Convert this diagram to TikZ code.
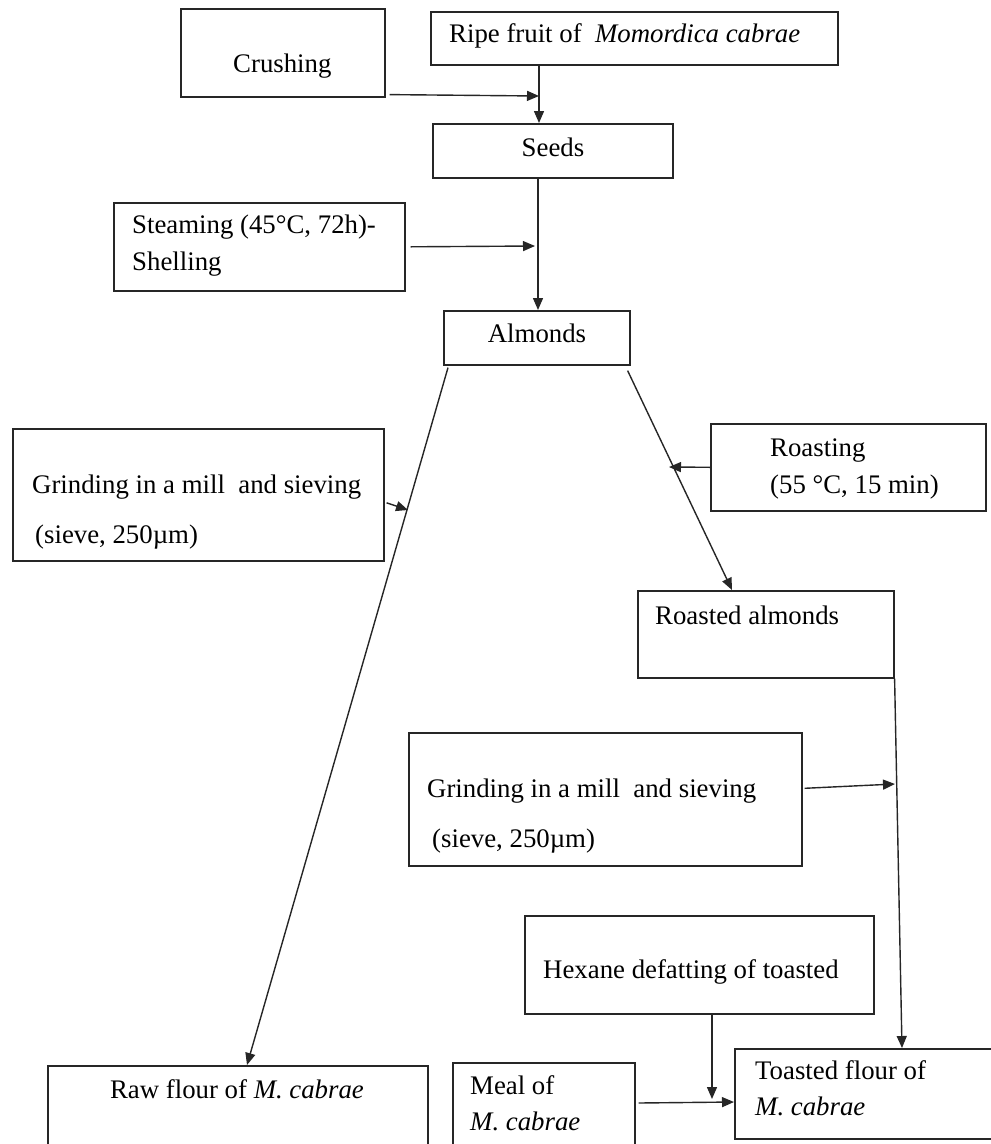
\documentclass[tikz,border=0pt]{standalone}
\usepackage{fontspec}
\setmainfont{Liberation Serif}
\usetikzlibrary{arrows.meta,calc}
\begin{document}
\begin{tikzpicture}[x=1pt,y=-1pt,
  box/.style={draw=black!85, line width=1.6pt, rectangle, inner sep=0pt, anchor=north west},
  txt/.style={inner sep=0pt, anchor=base west, font=\fontsize{26.8}{32}\selectfont},
  ctxt/.style={txt, anchor=base},
  arr/.style={draw=black!85, line width=1.4pt, -{Triangle[length=12pt,width=10pt]}},
  ln/.style={draw=black!85, line width=1.4pt}]
\useasboundingbox (0,0) rectangle (991,1144);
\clip (0,0) rectangle (991,1144);
% boxes
\node[box, minimum width=204pt, minimum height=88pt] (crush) at (180,8) {};
\node[box, minimum width=407pt, minimum height=53pt] (ripe) at (430,11) {};
\node[box, minimum width=240pt, minimum height=54pt] (seeds) at (432,123) {};
\node[box, minimum width=291pt, minimum height=88pt] (steam) at (113,202) {};
\node[box, minimum width=186pt, minimum height=54pt] (alm) at (443,310) {};
\node[box, minimum width=371pt, minimum height=132pt] (grind1) at (12,428) {};
\node[box, minimum width=275pt, minimum height=87pt] (roast) at (710,423) {};
\node[box, minimum width=256pt, minimum height=87pt] (roasted) at (637,590) {};
\node[box, minimum width=393pt, minimum height=133pt] (grind2) at (408,732) {};
\node[box, minimum width=349pt, minimum height=98pt] (hex) at (524,915) {};
\node[box, minimum width=380pt, minimum height=120pt] (raw) at (47,1065) {};
\node[box, minimum width=182pt, minimum height=120pt] (meal) at (452,1062) {};
\node[box, minimum width=300pt, minimum height=90pt] (toast) at (734,1048) {};
% texts
\node[txt] (tcrush) at (233,72) {Crushing};
\node[txt] (tripe) at (449,42) {Ripe fruit of \ \textit{Momordica cabrae}};
\node[ctxt] (tseeds) at (553,156) {Seeds};
\node[txt] (tsteam1) at (132,233) {Steaming (45°C, 72h)-};
\node[txt] (tsteam2) at (132,270) {Shelling};
\node[ctxt] (talm) at (537,342) {Almonds};
\node[txt] (tg11) at (32,493) {Grinding in a mill \ and sieving};
\node[txt] (tg12) at (35,543) {(sieve, 250µm)};
\node[txt] (troast1) at (770,456) {Roasting};
\node[txt] (troast2) at (770,493) {(55 °C, 15 min)};
\node[txt] (troasted) at (655,624) {Roasted almonds};
\node[txt] (tg21) at (427,797) {Grinding in a mill \ and sieving};
\node[txt] (tg22) at (432,847) {(sieve, 250µm)};
\node[txt] (thex) at (543,978) {Hexane defatting of toasted};
\node[ctxt] (traw) at (237,1098) {Raw flour of \textit{M. cabrae}};
\node[txt] (tmeal1) at (470,1094) {Meal of};
\node[txt] (tmeal2) at (470,1130) {\textit{M. cabrae}};
\node[txt] (ttoast1) at (755,1079) {Toasted flour of};
\node[txt] (ttoast2) at (755,1115) {\textit{M. cabrae}};
% junction coordinates
\coordinate (j1) at (539,96);
\coordinate (j2) at (538,246);
\coordinate (g1) at (408,510);
\coordinate (g2) at (669,467);
\coordinate (g3) at (895,784);
\coordinate (g4) at (712,1099);
% connectors
\draw[ln] (ripe.south -| j1) -- (j1);
\draw[arr] (j1) -- (seeds.north -| j1);
\draw[arr] ([xshift=4pt,yshift=3pt]crush.south east) -- (j1);
\draw[ln] (seeds.south -| j2) -- (j2);
\draw[arr] (j2) -- (alm.north -| j2);
\draw[arr] ([xshift=5pt]steam.east) -- ([xshift=-3pt]j2);
\draw[arr] ([xshift=5pt,yshift=-2pt]alm.south west) -- ($(raw.north west)+(200,0)$);
\draw[arr] ([xshift=2pt,yshift=-8pt]grind1.east) -- (g1);
\draw[arr] ([xshift=-3pt,yshift=-5pt]alm.south east) -- ($(roasted.north west)+(95,0)$);
\draw[arr] (roast.west) -- (g2);
\draw[arr] (roasted.south east) -- ($(toast.north west)+(168,0)$);
\draw[arr] ([xshift=2pt,yshift=11pt]grind2.east) -- (g3);
\draw[arr] ($(hex.south west)+(188,0)$) -- (g4);
\draw[arr] ($(meal.north east)+(3,41)$) -- ($(toast.north west)+(0,54)$);
\end{tikzpicture}
\end{document}
